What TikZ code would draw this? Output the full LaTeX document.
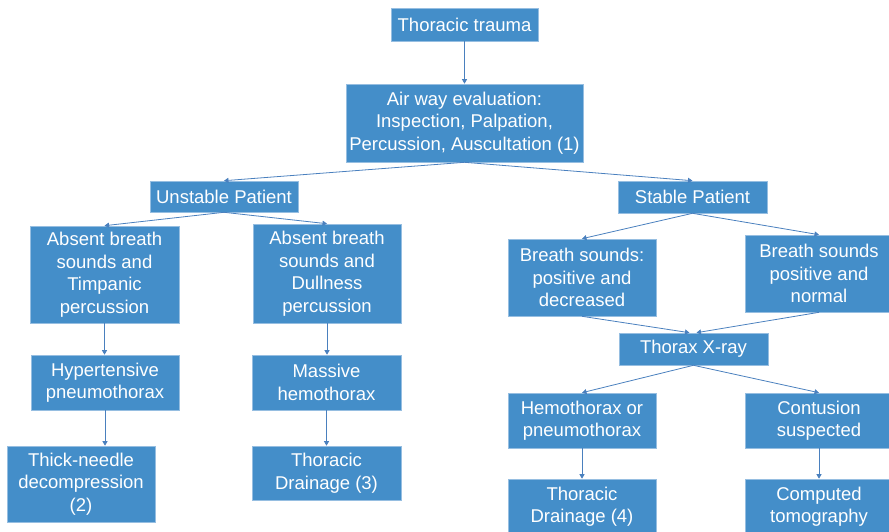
\documentclass[tikz,border=0pt]{standalone}
\usepackage{fontspec}
\setmainfont{Liberation Sans}
\usetikzlibrary{arrows.meta}
\definecolor{boxfill}{RGB}{68,142,201}
\definecolor{boxedge}{RGB}{150,190,225}
\definecolor{linkcol}{RGB}{74,128,190}
\tikzset{
  box/.style={fill=boxfill, draw=boxedge, line width=0.6pt, text=white,
    align=center, inner sep=0pt, font=\fontsize{18.5}{22.5}\selectfont},
  link/.style={draw=linkcol, line width=0.8pt,
    -{Triangle[length=4.5pt,width=5pt]}, shorten >=0pt}
}
% place a box by centre (x,y) and size w x h, all in pixel-like points
\newcommand{\flowbox}[6]{%
  \node[box, minimum width=#4pt, minimum height=#5pt] (#1) at (#2pt,-#3pt) {#6};}
\begin{document}
\begin{tikzpicture}
\useasboundingbox (0,0) rectangle (889pt,-531pt);
\clip (0,0) rectangle (889pt,-531pt);

\flowbox{trauma}{464.5}{24.5}{147}{33}{Thoracic trauma}
\flowbox{airway}{464.5}{123}{237}{78}{Air way evaluation:\\Inspection, Palpation,\\Percussion, Auscultation (1)}
\flowbox{unstable}{224}{196.5}{148}{31}{Unstable Patient}
\flowbox{stable}{692.5}{197}{149}{32}{Stable Patient}

\flowbox{absentA}{104.5}{274.5}{149}{97}{Absent breath\\sounds and\\Timpanic\\percussion}
\flowbox{absentB}{327}{273.5}{148}{99}{Absent breath\\sounds and\\Dullness\\percussion}
\flowbox{hyper}{105}{382.5}{148}{55}{Hypertensive\\pneumothorax}
\flowbox{massive}{326.5}{382.5}{149}{55}{Massive\\hemothorax}
\flowbox{needle}{81}{484}{148}{76}{Thick-needle\\decompression\\(2)}
\flowbox{drainC}{326.5}{473}{149}{54}{Thoracic\\Drainage (3)}

\flowbox{decreased}{582}{277.5}{148}{77}{Breath sounds:\\positive and\\decreased}
\flowbox{normal}{819}{273.5}{148}{77}{Breath sounds\\positive and\\normal}
\flowbox{xray}{693.5}{349}{149}{32}{Thorax X-ray}
\flowbox{hemo}{582}{420.5}{148}{55}{Hemothorax or\\pneumothorax}
\flowbox{contusion}{819}{420.5}{148}{55}{Contusion\\suspected}
\flowbox{drainD}{582}{506.5}{148}{55}{Thoracic\\Drainage (4)}
\flowbox{ct}{819}{506.5}{148}{55}{Computed\\tomography}

% connectors
\draw[link] (trauma.south) -- (airway.north);
\draw[link] (airway.south) -- (unstable.north);
\draw[link] (airway.south) -- (stable.north);
\draw[link] (unstable.south) -- (absentA.north);
\draw[link] (unstable.south) -- (absentB.north);
\draw[link] (stable.south) -- (decreased.north);
\draw[link] (stable.south) -- (normal.north);
\draw[link] (absentA.south) -- (absentA.south |- hyper.north);
\draw[link] (hyper.south) -- (hyper.south |- needle.north);
\draw[link] (absentB.south) -- (absentB.south |- massive.north);
\draw[link] (massive.south) -- (massive.south |- drainC.north);
\draw[link] (decreased.south) -- ([xshift=-4pt]xray.north);
\draw[link] (normal.south) -- ([xshift=3pt]xray.north);
\draw[link] (xray.south) -- (hemo.north);
\draw[link] (xray.south) -- (contusion.north);
\draw[link] (hemo.south) -- (hemo.south |- drainD.north);
\draw[link] (contusion.south) -- (contusion.south |- ct.north);
\end{tikzpicture}
\end{document}
